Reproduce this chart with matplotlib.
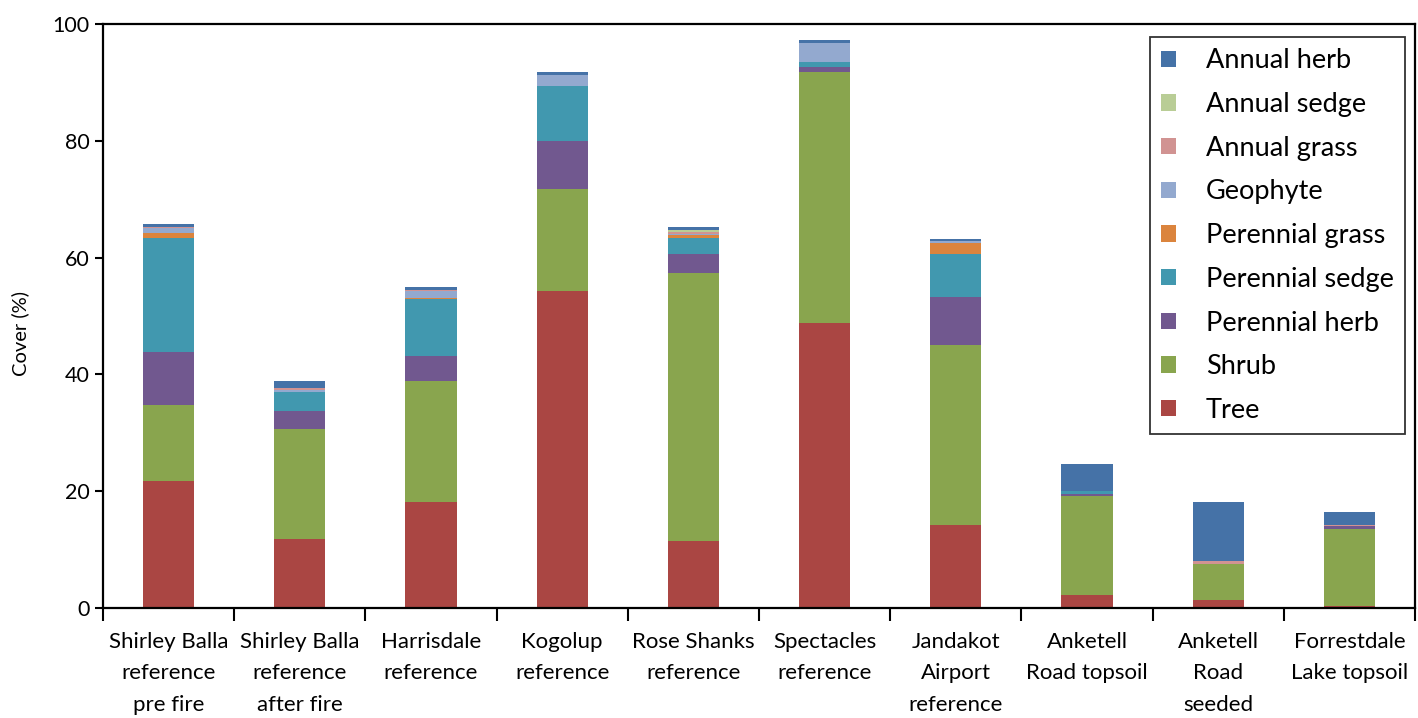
import numpy as np
import matplotlib
matplotlib.use("Agg")
import matplotlib.pyplot as plt
from matplotlib.ticker import FixedLocator, NullFormatter

plt.rcParams['font.family'] = ['Lato', 'DejaVu Sans']

sites = [
    "Shirley Balla\nreference\npre fire",
    "Shirley Balla\nreference\nafter fire",
    "Harrisdale\nreference",
    "Kogolup\nreference",
    "Rose Shanks\nreference",
    "Spectacles\nreference",
    "Jandakot\nAirport\nreference",
    "Anketell\nRoad topsoil",
    "Anketell\nRoad\nseeded",
    "Forrestdale\nLake topsoil",
]

# Cover (%) of each life form, stacked bottom to top
tree            = [21.8, 11.8, 18.2, 54.3, 11.5, 48.8, 14.2,  2.2,  1.3,  0.4]
shrub           = [13.0, 18.9, 20.6, 17.4, 45.9, 42.9, 30.8, 16.9,  6.3, 13.2]
perennial_herb  = [ 9.0,  3.0,  4.4,  8.2,  3.3,  0.9,  8.3,  0.5,  0.0,  0.5]
perennial_sedge = [19.6,  3.2,  9.7,  9.5,  2.7,  0.9,  7.4,  0.4,  0.0,  0.0]
perennial_grass = [ 0.8,  0.1,  0.1,  0.0,  0.4,  0.0,  1.8,  0.0,  0.0,  0.0]
geophyte        = [ 0.8,  0.4,  1.3,  1.9,  0.3,  3.3,  0.3,  0.1,  0.0,  0.0]
annual_grass    = [ 0.2,  0.2,  0.1,  0.0,  0.2,  0.0,  0.1,  0.0,  0.4,  0.1]
annual_sedge    = [ 0.0,  0.0,  0.0,  0.0,  0.5,  0.0,  0.0,  0.0,  0.0,  0.0]
annual_herb     = [ 0.6,  1.3,  0.5,  0.4,  0.5,  0.4,  0.3,  4.5, 10.2,  2.3]

series = [
    ("Tree", tree, "#AA4643"),
    ("Shrub", shrub, "#89A54E"),
    ("Perennial herb", perennial_herb, "#71588F"),
    ("Perennial sedge", perennial_sedge, "#4198AF"),
    ("Perennial grass", perennial_grass, "#DB843D"),
    ("Geophyte", geophyte, "#93A9CF"),
    ("Annual grass", annual_grass, "#D19392"),
    ("Annual sedge", annual_sedge, "#B9CD96"),
    ("Annual herb", annual_herb, "#4572A7"),
]

fig = plt.figure(figsize=(14.18, 7.18), dpi=100)
ax = fig.add_axes([0.0726, 0.1532, 0.9253, 0.8134])

x = np.arange(len(sites))
bottom = np.zeros(len(sites))
handles = []
for name, vals, col in series:
    vals = np.asarray(vals, dtype=float)
    h = ax.bar(x, vals, width=0.39, bottom=bottom, color=col, label=name,
               edgecolor="none", linewidth=0)
    handles.append(h)
    bottom += vals

ax.set_xlim(-0.5, len(sites) - 0.5)
ax.set_ylim(0, 100)
ax.set_yticks(np.arange(0, 101, 20))
ax.set_ylabel("Cover (%)", fontsize=14.5)
ax.yaxis.set_label_coords(-0.056, 0.47)

ax.set_xticks(x)
ax.set_xticklabels(sites, fontsize=16, linespacing=1.72)
ax.tick_params(axis="x", which="major", length=0, pad=17)
ax.xaxis.set_minor_locator(FixedLocator(np.arange(-0.5, len(sites), 1.0)))
ax.xaxis.set_minor_formatter(NullFormatter())
ax.tick_params(axis="x", which="minor", length=9, width=1.5, direction="out")
ax.tick_params(axis="y", labelsize=15.5, length=6, width=1.5, direction="out")

for s in ax.spines.values():
    s.set_linewidth(1.6)
    s.set_color("black")

leg = ax.legend(handles[::-1], [s[0] for s in series][::-1],
                loc="upper right", bbox_to_anchor=(0.9924, 0.9777),
                fontsize=19.5, frameon=True, fancybox=False, edgecolor="black",
                handlelength=0.55, handleheight=0.55, handletextpad=1.1,
                labelspacing=0.69, borderpad=0.42, borderaxespad=0)
leg.get_frame().set_linewidth(1.3)

fig.savefig("out.png", dpi=100)
